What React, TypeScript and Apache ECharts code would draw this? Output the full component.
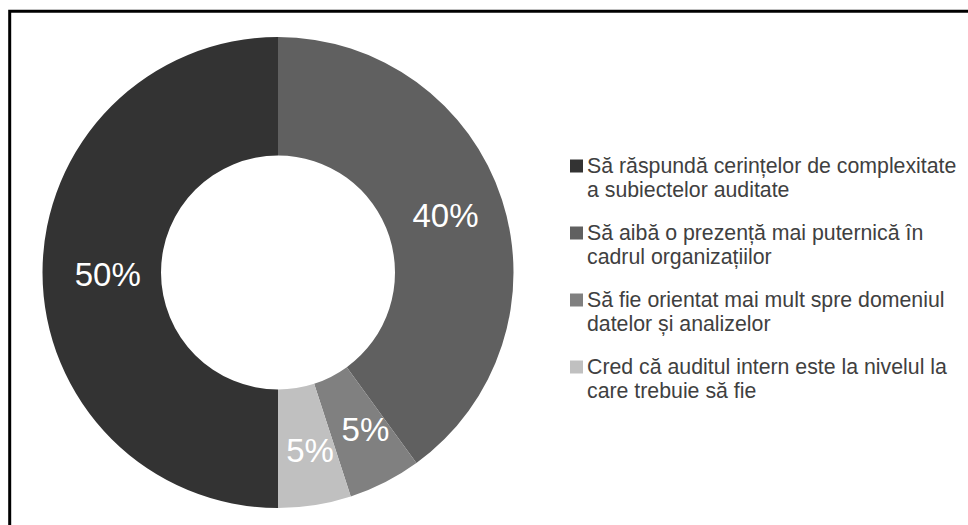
import React, { useEffect, useRef } from "react";
import * as echarts from "echarts";

const categories = [
  "Să răspundă cerințelor de complexitate a subiectelor auditate",
  "Să aibă o prezență mai puternică în cadrul organizațiilor",
  "Să fie orientat mai mult spre domeniul datelor și analizelor",
  "Cred că auditul intern este la nivelul la care trebuie să fie",
];
const legendLines = [
  ["Să răspundă cerințelor de complexitate", "a subiectelor auditate"],
  ["Să aibă o prezență mai puternică în", "cadrul organizațiilor"],
  ["Să fie orientat mai mult spre domeniul", "datelor și analizelor"],
  ["Cred că auditul intern este la nivelul la", "care trebuie să fie"],
];
const values = [50, 40, 5, 5];
const colors = ["#333333", "#606060", "#808080", "#c0c0c0"];
const labelOffsets = [
  [9, 2],
  [-3, -2],
  [6, -3],
  [4, 1],
];

export default function App() {
  const ref = useRef<HTMLDivElement>(null);
  useEffect(() => {
    document.body.style.margin = "0";
    const chart = echarts.init(ref.current!, undefined, { renderer: "svg" });
    const rich: Record<string, any> = {
      t: {
        fontFamily: "Liberation Sans, Arial, sans-serif",
        fontSize: 21.3,
        lineHeight: 24,
        color: "#404040",
      },
      g: { width: 4, height: 13 },
      p: { width: 17, height: 13 },
    };
    colors.forEach((c, i) => {
      rich["s" + i] = { width: 13, height: 13, backgroundColor: c };
    });
    chart.setOption({
      animation: false,
      backgroundColor: "#ffffff",
      graphic: [
        {
          type: "rect",
          shape: { x: 9.7, y: 11.3, width: 1000, height: 600 },
          style: { fill: "none", stroke: "#000000", lineWidth: 3 },
          silent: true,
        },
      ],
      legend: {
        orient: "vertical",
        left: 565,
        top: 154,
        padding: 0,
        itemGap: 19,
        itemWidth: 0,
        itemHeight: 0,
        icon: "none",
        selectedMode: false,
        data: categories,
        formatter: (name: string) => {
          const i = categories.indexOf(name);
          const [l1, l2] = legendLines[i];
          return `{s${i}|}{g|}{t|${l1}}\n{p|}{t|${l2}}`;
        },
        textStyle: {
          fontFamily: "Liberation Sans, Arial, sans-serif",
          fontSize: 21.3,
          lineHeight: 24,
          color: "#404040",
          rich,
        },
      },
      series: [
        {
          type: "pie",
          center: [278, 272.5],
          radius: [117, 235.5],
          startAngle: 270,
          clockwise: true,
          avoidLabelOverlap: false,
          label: {
            show: true,
            position: "inside",
            formatter: "{c}%",
            color: "#ffffff",
            fontFamily: "Liberation Sans, Arial, sans-serif",
            fontSize: 33,
          },
          labelLine: { show: false },
          emphasis: { disabled: true },
          itemStyle: { borderWidth: 0 },
          data: categories.map((name, i) => ({
            name,
            value: values[i],
            itemStyle: { color: colors[i] },
            label: { offset: labelOffsets[i] },
          })),
        },
      ],
    });
    return () => chart.dispose();
  }, []);
  return <div ref={ref} style={{ width: 968, height: 525 }} />;
}
